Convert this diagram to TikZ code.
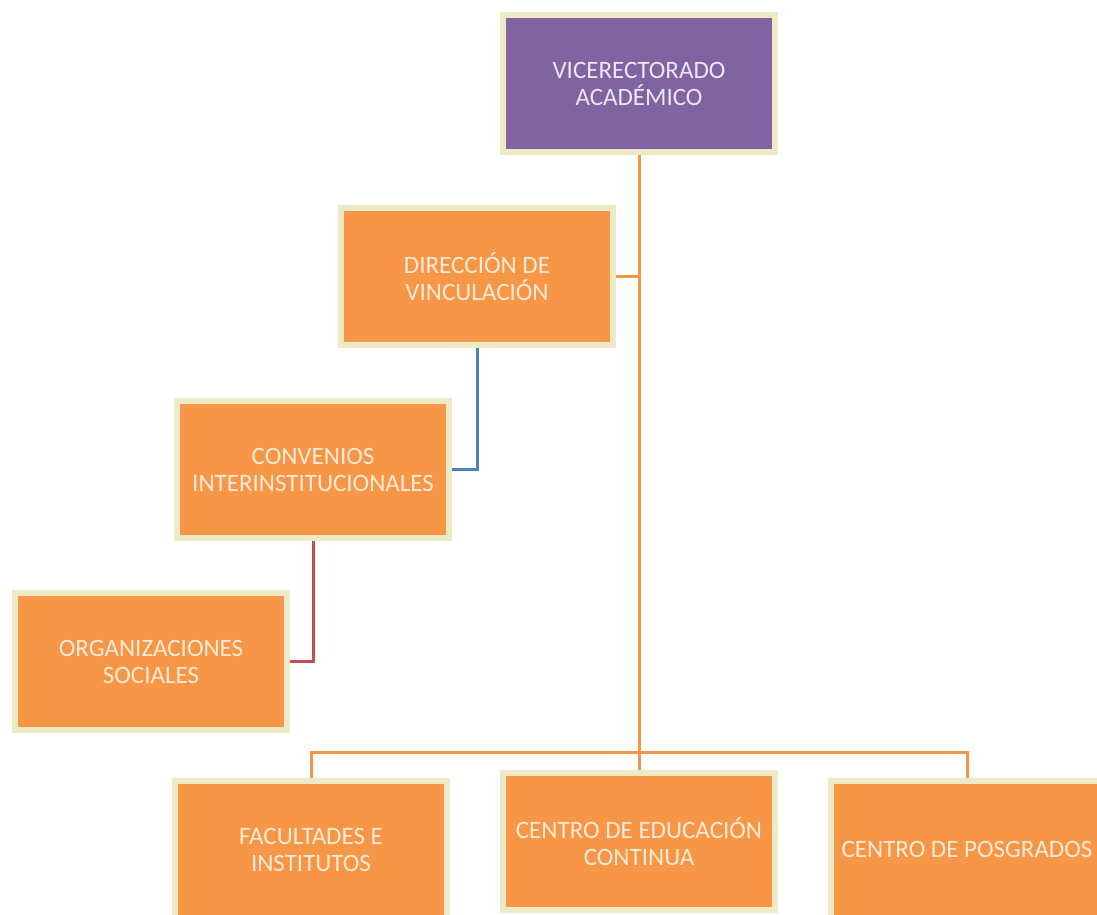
\documentclass[tikz,border=0pt]{standalone}
\usepackage{fontspec}
\setmainfont{Carlito}
\usepackage{tikz}
\usepackage{xcolor}
\usetikzlibrary{positioning, shadows}

\definecolor{unitorange}{HTML}{F79646}
\definecolor{unitpurple}{HTML}{8064A2}
\definecolor{unitrim}{HTML}{EEEAC6}
\definecolor{unittext}{HTML}{FDEBD8}
\definecolor{headtext}{HTML}{EDE6F4}
\definecolor{linkblue}{HTML}{4F81BD}
\definecolor{linkred}{HTML}{C0504D}

\tikzset{
  orgunit/.style={rectangle, fill=unitorange, draw=unitrim, line width=6pt,
    minimum width=272pt, minimum height=137pt, align=center, text=unittext,
    font=\fontsize{25}{27}\selectfont,
    drop shadow={shadow xshift=1pt, shadow yshift=-3pt, fill=black!45, opacity=0.45}},
  headunit/.style={orgunit, fill=unitpurple, text=headtext},
  mainlink/.style={draw=unitorange, line width=3pt},
  bluelink/.style={draw=linkblue, line width=3pt},
  redlink/.style={draw=linkred, line width=3pt}
}

\begin{document}
\begin{tikzpicture}
\useasboundingbox (0,0) rectangle (1097pt,-915pt);

% Units
\node[headunit] (vice) at (639pt,-83.5pt) {VICERECTORADO\\ACADÉMICO};
\node[orgunit, below=50pt of vice, xshift=-162pt] (direccion) {DIRECCIÓN DE\\VINCULACIÓN};
\node[orgunit, below=50pt of direccion, xshift=-164pt] (convenios) {CONVENIOS\\INTERINSTITUCIONALES};
\node[orgunit, below=49pt of convenios, xshift=-162pt] (organiz) {ORGANIZACIONES\\SOCIALES};

% Bottom row
\node[orgunit, below=615pt of vice] (educacion) {CENTRO DE EDUCACIÓN\\CONTINUA};
\node[orgunit, left=50pt of educacion, yshift=-8pt] (facultades) {FACULTADES E\\INSTITUTOS};
\node[orgunit, right=50pt of educacion, yshift=-8pt] (posgrados) {CENTRO DE POSGRADOS};

% Connectors
\draw[mainlink] (vice) -- (educacion);
\draw[mainlink] (direccion.east) -- (direccion.east -| vice.south);
\draw[mainlink] (facultades.north) -- ++(0,26pt) -| (posgrados.north);
\draw[bluelink] (direccion.south) |- (convenios.east);
\draw[redlink] (convenios.south) |- (organiz.east);

\end{tikzpicture}
\end{document}
